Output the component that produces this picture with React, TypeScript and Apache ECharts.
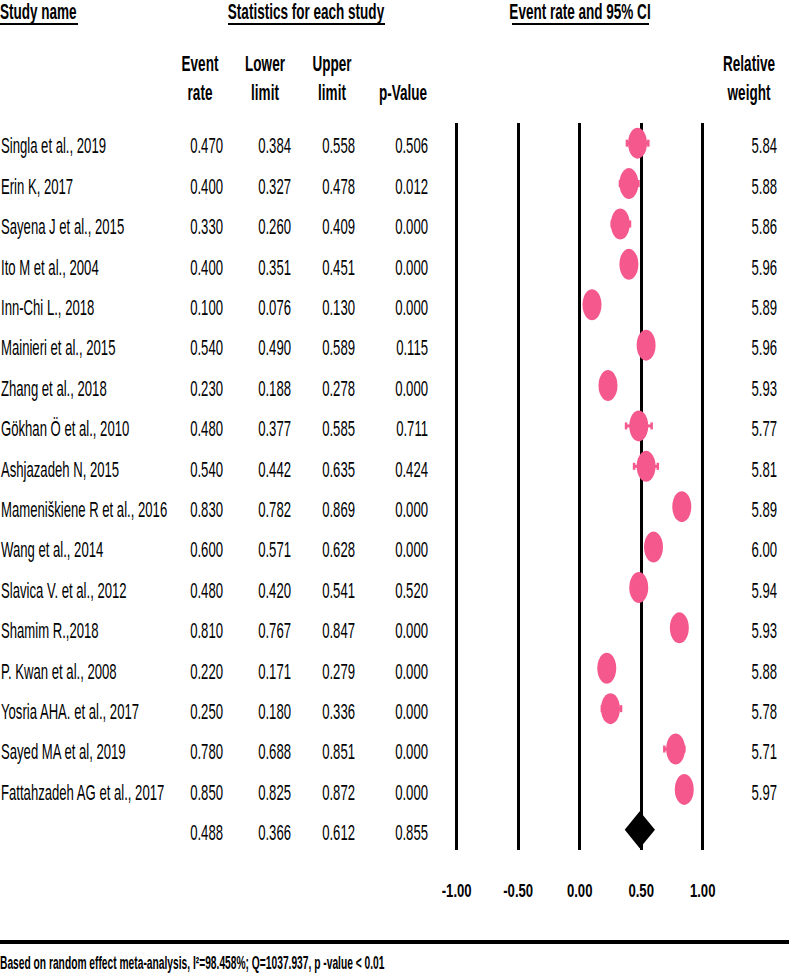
import React, { useEffect, useRef } from 'react';
import * as echarts from 'echarts';

const studies = [
  'Singla et al., 2019',
  'Erin K, 2017',
  'Sayena J et al., 2015',
  'Ito M et al., 2004',
  'Inn-Chi L., 2018',
  'Mainieri et al., 2015',
  'Zhang et al., 2018',
  'Gökhan Ö et al., 2010',
  'Ashjazadeh N, 2015',
  'Mameniškiene R et al., 2016',
  'Wang et al., 2014',
  'Slavica V. et al., 2012',
  'Shamim R.,2018',
  'P. Kwan et al., 2008',
  'Yosria AHA. et al., 2017',
  'Sayed MA et al, 2019',
  'Fattahzadeh AG et al., 2017',
];
const eventRate = [0.47, 0.4, 0.33, 0.4, 0.1, 0.54, 0.23, 0.48, 0.54, 0.83, 0.6, 0.48, 0.81, 0.22, 0.25, 0.78, 0.85];
const lowerLimit = [0.384, 0.327, 0.26, 0.351, 0.076, 0.49, 0.188, 0.377, 0.442, 0.782, 0.571, 0.42, 0.767, 0.171, 0.18, 0.688, 0.825];
const upperLimit = [0.558, 0.478, 0.409, 0.451, 0.13, 0.589, 0.278, 0.585, 0.635, 0.869, 0.628, 0.541, 0.847, 0.279, 0.336, 0.851, 0.872];
const pValue = [0.506, 0.012, 0.0, 0.0, 0.0, 0.115, 0.0, 0.711, 0.424, 0.0, 0.0, 0.52, 0.0, 0.0, 0.0, 0.0, 0.0];
const relativeWeight = [5.84, 5.88, 5.86, 5.96, 5.89, 5.96, 5.93, 5.77, 5.81, 5.89, 6.0, 5.94, 5.93, 5.88, 5.78, 5.71, 5.97];

const summaryLabel = 'Random effect';
const summaryEvent = 0.488;
const summaryLower = 0.366;
const summaryUpper = 0.612;
const summaryP = 0.855;

const xMin = -1;
const xMax = 1;
const xInterval = 0.5;
const xTicks = [-1, -0.5, 0, 0.5, 1];

const footnote = 'Based on random effect meta-analysis, I\u00b2=98.458%; Q=1037.937, p -value < 0.01';

const FONT_FAMILY = '"Liberation Sans", Arial, sans-serif';
const PINK = '#F4588C';
const SX = 0.82;

export default function App() {
  const ref = useRef<HTMLDivElement>(null);

  useEffect(() => {
    if (!ref.current) return;
    const chart = echarts.init(ref.current, null, { renderer: 'svg' });
    const categories = [...studies, summaryLabel];
    const summaryIdx = studies.length;

    const mkText = (
      text: string,
      x: number,
      y: number,
      align: string,
      size: number,
      bold: boolean,
      sx: number,
      sy: number
    ) => ({
      type: 'text',
      x,
      y,
      scaleX: sx,
      scaleY: sy,
      silent: true,
      style: {
        text,
        x: 0,
        y: 0,
        align,
        verticalAlign: 'middle',
        fill: '#000',
        font: `${bold ? 'bold ' : ''}${size}px ${FONT_FAMILY}`,
      },
    });

    const statCols = [223, 291, 355, 428];
    const TEXT_SY = 1.35;
    const HEAD_SY = 1.3;

    const headerGraphics: any[] = [
      mkText('Study name', 0, 12, 'left', 16.5, true, SX, HEAD_SY),
      { type: 'line', silent: true, shape: { x1: 0, y1: 24, x2: 78, y2: 24 }, style: { stroke: '#000', lineWidth: 2 } },
      mkText('Statistics for each study', 306, 12, 'center', 16.5, true, SX, HEAD_SY),
      { type: 'line', silent: true, shape: { x1: 228, y1: 24, x2: 385, y2: 24 }, style: { stroke: '#000', lineWidth: 2 } },
      mkText('Event rate and 95% CI', 580, 12, 'center', 16.5, true, SX, HEAD_SY),
      { type: 'line', silent: true, shape: { x1: 512, y1: 24, x2: 649, y2: 24 }, style: { stroke: '#000', lineWidth: 2 } },
      mkText('Event', 200, 64, 'center', 16.5, true, SX, HEAD_SY),
      mkText('rate', 200, 93, 'center', 16.5, true, SX, HEAD_SY),
      mkText('Lower', 265, 64, 'center', 16.5, true, SX, HEAD_SY),
      mkText('limit', 265, 93, 'center', 16.5, true, SX, HEAD_SY),
      mkText('Upper', 332, 64, 'center', 16.5, true, SX, HEAD_SY),
      mkText('limit', 332, 93, 'center', 16.5, true, SX, HEAD_SY),
      mkText('p-Value', 403, 93, 'center', 16.5, true, SX, HEAD_SY),
      mkText('Relative', 749, 64, 'center', 16.5, true, SX, HEAD_SY),
      mkText('weight', 749, 93, 'center', 16.5, true, SX, HEAD_SY),
      { type: 'rect', silent: true, shape: { x: 0, y: 940, width: 789, height: 4 }, style: { fill: '#000' } },
      mkText(footnote, 0, 963, 'left', 12.5, true, SX, 1.4),
    ];

    const option: any = {
      animation: false,
      backgroundColor: '#fff',
      grid: { left: 456.7, right: 86.3, top: 123, bottom: 127, containLabel: false },
      xAxis: {
        type: 'value',
        min: xMin,
        max: xMax,
        interval: xInterval,
        axisLine: { show: false },
        axisTick: { show: false },
        splitLine: { show: true, lineStyle: { color: '#000', width: 3 } },
        axisLabel: { show: false },
      },
      yAxis: {
        type: 'category',
        data: categories,
        inverse: true,
        show: false,
        boundaryGap: true,
      },
      series: [
        {
          type: 'custom',
          name: 'table',
          silent: true,
          clip: false,
          data: categories.map((_, i) => [0, i]),
          encode: { x: 0, y: 1 },
          renderItem: (params: any, api: any) => {
            const i = params.dataIndex;
            const y = api.coord([0, i])[1] + 3;
            const isSum = i === summaryIdx;
            const children: any[] = [];
            if (!isSum) children.push(mkText(studies[i], 1, y, 'left', 16, false, SX, TEXT_SY));
            const vals = isSum
              ? [summaryEvent, summaryLower, summaryUpper, summaryP]
              : [eventRate[i], lowerLimit[i], upperLimit[i], pValue[i]];
            vals.forEach((v, k) => {
              children.push(mkText(v.toFixed(3), statCols[k], y, 'right', 16, false, SX, TEXT_SY));
            });
            if (!isSum) children.push(mkText(relativeWeight[i].toFixed(2), 777, y, 'right', 16, false, SX, TEXT_SY));
            return { type: 'group', children };
          },
          z: 5,
        },
        {
          type: 'custom',
          name: 'ci',
          silent: true,
          clip: false,
          data: studies.map((_, i) => [lowerLimit[i], upperLimit[i], i]),
          encode: { x: [0, 1], y: 2 },
          renderItem: (params: any, api: any) => {
            const p1 = api.coord([api.value(0), api.value(2)]);
            const p2 = api.coord([api.value(1), api.value(2)]);
            const st = { stroke: PINK, lineWidth: 3 };
            return {
              type: 'group',
              children: [
                { type: 'line', shape: { x1: p1[0], y1: p1[1], x2: p2[0], y2: p2[1] }, style: st },
                { type: 'line', shape: { x1: p1[0], y1: p1[1] - 3.5, x2: p1[0], y2: p1[1] + 3.5 }, style: { stroke: PINK, lineWidth: 2.5 } },
                { type: 'line', shape: { x1: p2[0], y1: p2[1] - 3.5, x2: p2[0], y2: p2[1] + 3.5 }, style: { stroke: PINK, lineWidth: 2.5 } },
              ],
            };
          },
          z: 3,
        },
        {
          type: 'scatter',
          name: 'Event rate',
          silent: true,
          symbol: 'circle',
          symbolSize: [19, 31],
          itemStyle: { color: PINK, opacity: 1 },
          data: studies.map((_, i) => [eventRate[i], i]),
          z: 4,
        },
        {
          type: 'custom',
          name: 'summary',
          silent: true,
          clip: false,
          data: [[summaryLower, summaryUpper, summaryEvent, summaryIdx]],
          encode: { x: [0, 1, 2], y: 3 },
          renderItem: (params: any, api: any) => {
            const pl = api.coord([api.value(0), api.value(3)]);
            const pu = api.coord([api.value(1), api.value(3)]);
            const pc = api.coord([api.value(2), api.value(3)]);
            const h = 18.5;
            return {
              type: 'polygon',
              shape: {
                points: [
                  [pl[0], pc[1]],
                  [pc[0], pc[1] - h],
                  [pu[0], pc[1]],
                  [pc[0], pc[1] + h],
                ],
              },
              style: { fill: '#000' },
            };
          },
          z: 4,
        },
      ],
      graphic: headerGraphics,
    };
    chart.setOption(option);

    // Tick labels positioned through the x axis scale
    const tickGraphics = xTicks.map((v) => {
      const px = chart.convertToPixel({ xAxisIndex: 0 }, v) as number;
      return mkText(v.toFixed(2), px, 890, 'center', 16, true, SX, 1.2);
    });
    chart.setOption({ graphic: [...headerGraphics, ...tickGraphics] });

    return () => chart.dispose();
  }, []);

  return (
    <div
      ref={ref}
      style={{ position: 'absolute', left: 0, top: 0, width: 789, height: 977, background: '#fff' }}
    />
  );
}
